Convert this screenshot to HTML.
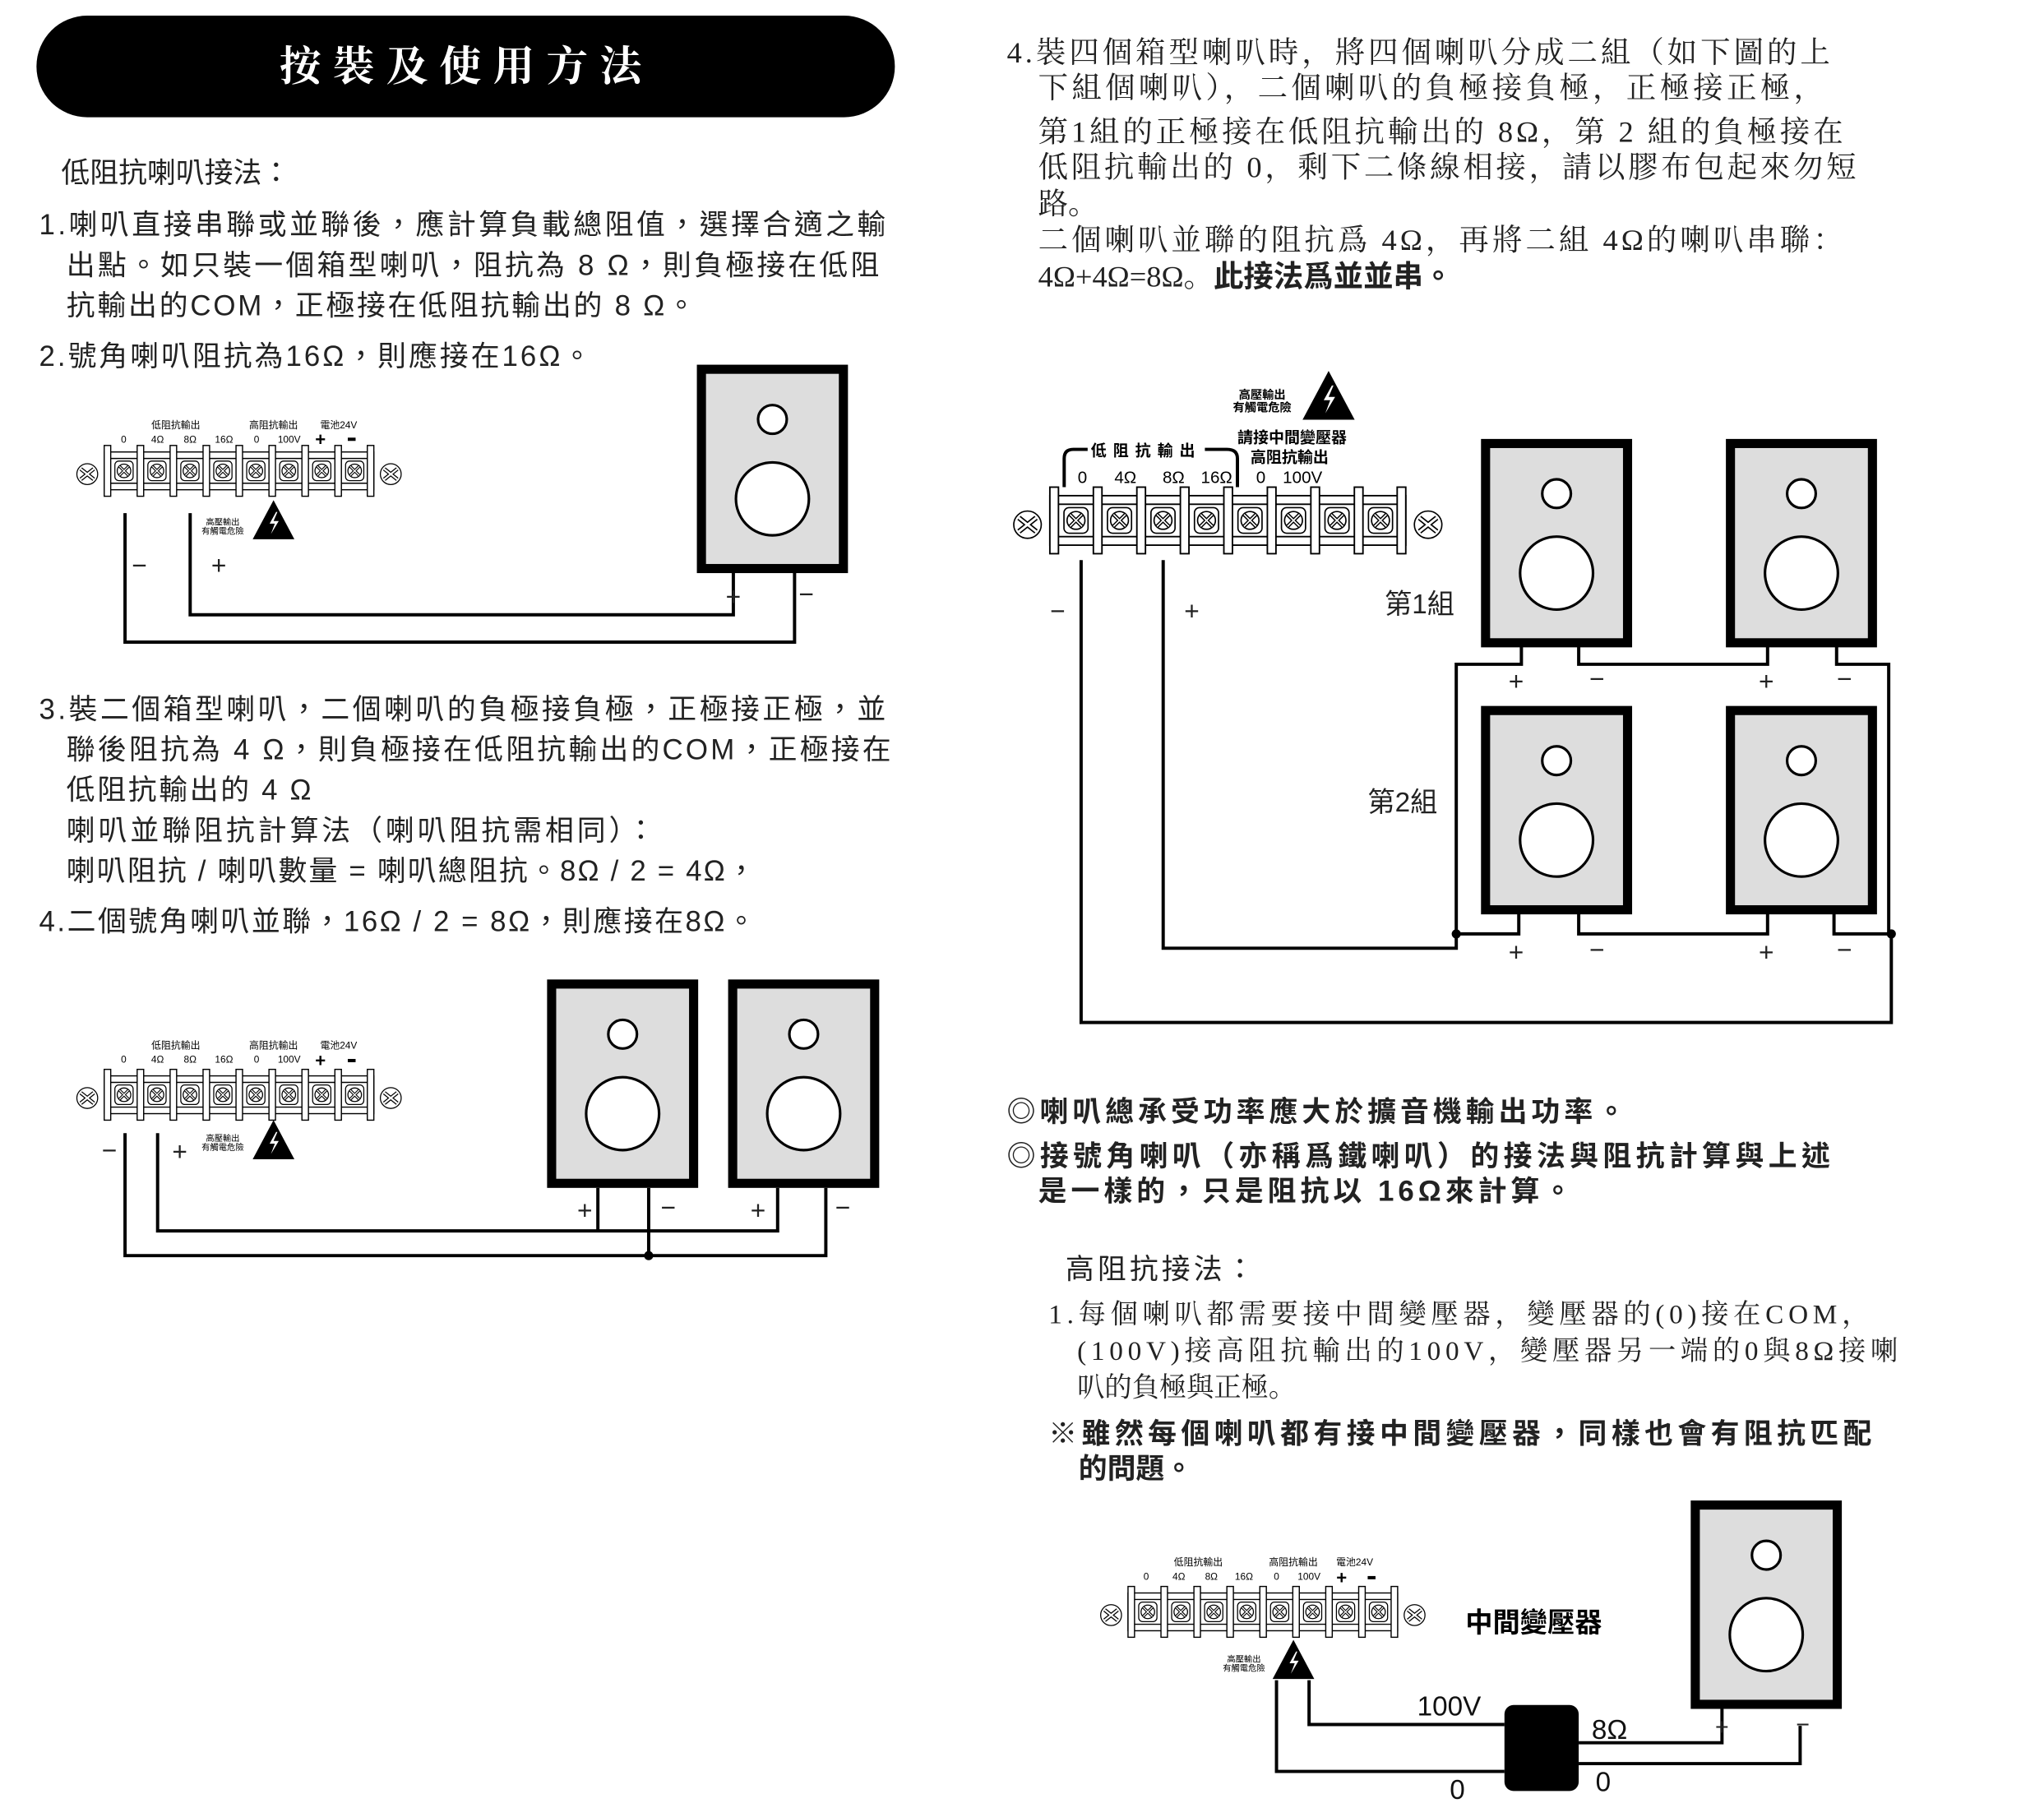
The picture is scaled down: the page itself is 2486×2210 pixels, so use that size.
<!DOCTYPE html>
<html><head><meta charset="utf-8"><style>
html,body{margin:0;padding:0;background:#fff;}
svg{display:block;}
.s{font-family:"Liberation Sans","Noto Sans CJK TC",sans-serif;}
.r{font-family:"Liberation Serif","Noto Serif CJK SC",serif;}
</style></head><body>
<svg width="2486" height="2210" viewBox="0 0 1569 1395" preserveAspectRatio="xMinYMin meet" xmlns="http://www.w3.org/2000/svg">
<defs>
<g id="cell">
 <rect x="-7" y="-7.5" width="14" height="15" rx="3" fill="#fff" stroke="#000" stroke-width="0.8"/>
 <circle r="5.2" fill="#fff" stroke="#000" stroke-width="0.8"/>
 <path d="M-3.5,-3.5L3.5,3.5M3.5,-3.5L-3.5,3.5" stroke="#000" stroke-width="2.2"/>
 <path d="M-3.5,-3.5L3.5,3.5M3.5,-3.5L-3.5,3.5" stroke="#fff" stroke-width="0.8"/>
</g>
<g id="screw">
 <circle r="8" fill="#fff" stroke="#000" stroke-width="0.8"/>
 <path d="M-5,-4L5,4M5,-4L-5,4" stroke="#000" stroke-width="3"/>
 <path d="M-5,-4L5,4M5,-4L-5,4" stroke="#fff" stroke-width="1.4"/>
</g>
<g id="block">
 <rect x="0" y="5" width="207" height="29" fill="#fff" stroke="#000" stroke-width="0.9"/>
 <line x1="0" y1="10" x2="207" y2="10" stroke="#000" stroke-width="0.9"/>
 <line x1="0" y1="29" x2="207" y2="29" stroke="#000" stroke-width="0.9"/>
 <g fill="#fff" stroke="#000" stroke-width="0.9">
 <rect x="0" y="0" width="5" height="39"/><rect x="25.3" y="0" width="5" height="39"/><rect x="50.6" y="0" width="5" height="39"/><rect x="75.9" y="0" width="5" height="39"/><rect x="101.2" y="0" width="5" height="39"/><rect x="126.5" y="0" width="5" height="39"/><rect x="151.8" y="0" width="5" height="39"/><rect x="177.1" y="0" width="5" height="39"/><rect x="202" y="0" width="5" height="39"/>
 </g>
 <use href="#cell" x="15.2" y="19.5"/><use href="#cell" x="40.5" y="19.5"/><use href="#cell" x="65.8" y="19.5"/><use href="#cell" x="91.1" y="19.5"/><use href="#cell" x="116.4" y="19.5"/><use href="#cell" x="141.7" y="19.5"/><use href="#cell" x="167" y="19.5"/><use href="#cell" x="192.3" y="19.5"/>
 <use href="#screw" x="-13" y="22"/><use href="#screw" x="220" y="22"/>
</g>
<g id="spk">
 <rect x="3.5" y="3.5" width="109" height="153" fill="#ddd" stroke="#000" stroke-width="7"/>
 <circle cx="58" cy="42" r="11" fill="#fff" stroke="#000" stroke-width="2"/>
 <circle cx="58" cy="103" r="28" fill="#fff" stroke="#000" stroke-width="2"/>
</g>
<g id="tri">
 <path d="M0,-17L16,13L-16,13Z" fill="#000"/>
 <path d="M2,-8L-3,1L1,1L-2,9L4,-1L0,-1L3,-8Z" fill="#fff"/>
</g>
</defs>

<!-- title -->
<rect x="28" y="12" width="659" height="78" rx="39" fill="#000"/>
<text x="358" y="62" text-anchor="middle" class="r" font-size="32" font-weight="bold" fill="#fff" letter-spacing="9">按裝及使用方法</text>

<g class="s" font-size="22" fill="#222">
<text x="47" y="140">低阻抗喇叭接法：</text>
<text x="30" y="180" textLength="650">1.喇叭直接串聯或並聯後，應計算負載總阻值，選擇合適之輸</text>
<text x="51" y="211" textLength="624">出點。如只裝一個箱型喇叭，阻抗為 8 Ω，則負極接在低阻</text>
<text x="51" y="242" textLength="483">抗輸出的COM，正極接在低阻抗輸出的 8 Ω。</text>
<text x="30" y="281" textLength="424">2.號角喇叭阻抗為16Ω，則應接在16Ω。</text>
<text x="30" y="552" textLength="650">3.裝二個箱型喇叭，二個喇叭的負極接負極，正極接正極，並</text>
<text x="51" y="583" textLength="633">聯後阻抗為 4 Ω，則負極接在低阻抗輸出的COM，正極接在</text>
<text x="51" y="614" textLength="188">低阻抗輸出的 4 Ω</text>
<text x="51" y="645" textLength="452">喇叭並聯阻抗計算法（喇叭阻抗需相同）：</text>
<text x="51" y="676" textLength="529">喇叭阻抗 / 喇叭數量 = 喇叭總阻抗。8Ω / 2 = 4Ω，</text>
<text x="30" y="715" textLength="550">4.二個號角喇叭並聯，16Ω / 2 = 8Ω，則應接在8Ω。</text>
</g>

<!-- diagram 1 -->
<use href="#block" x="80" y="342"/>
<g class="s" font-size="7.5" fill="#000" text-anchor="middle">
<text x="135" y="329">低阻抗輸出</text><text x="210" y="329">高阻抗輸出</text><text x="260" y="329">電池24V</text>
<text x="95" y="340">0</text><text x="121" y="340">4Ω</text><text x="146" y="340">8Ω</text><text x="172" y="340">16Ω</text><text x="197" y="340">0</text><text x="222" y="340">100V</text>
<text x="171" y="403" font-size="6.5">高壓輸出</text><text x="171" y="410" font-size="6.5">有觸電危險</text>
</g>
<text x="246" y="342" font-size="14" font-weight="bold" text-anchor="middle" class="s">+</text>
<rect x="267" y="336" width="6" height="2.5" fill="#000"/>
<use href="#tri" x="210" y="401"/>
<use href="#spk" x="535" y="280"/>
<g fill="none" stroke="#000" stroke-width="2.5">
<polyline points="96,394 96,493 610,493 610,440"/>
<polyline points="146,394 146,472 563,472 563,440"/>
</g>
<g class="s" font-size="20" fill="#222" text-anchor="middle">
<text x="107" y="441">−</text><text x="168" y="441">+</text><text x="563" y="465">+</text><text x="619" y="463">−</text>
</g>

<!-- diagram 2 -->
<use href="#block" x="80" y="821"/>
<g class="s" font-size="7.5" fill="#000" text-anchor="middle">
<text x="135" y="805">低阻抗輸出</text><text x="210" y="805">高阻抗輸出</text><text x="260" y="805">電池24V</text>
<text x="95" y="816">0</text><text x="121" y="816">4Ω</text><text x="146" y="816">8Ω</text><text x="172" y="816">16Ω</text><text x="197" y="816">0</text><text x="222" y="816">100V</text>
<text x="171" y="876" font-size="6.5">高壓輸出</text><text x="171" y="883" font-size="6.5">有觸電危險</text>
</g>
<text x="246" y="819" font-size="14" font-weight="bold" text-anchor="middle" class="s">+</text>
<rect x="267" y="813" width="6" height="2.5" fill="#000"/>
<use href="#tri" x="210" y="877"/>
<use href="#spk" x="420" y="752"/>
<use href="#spk" x="559" y="752"/>
<g fill="none" stroke="#000" stroke-width="2.5">
<polyline points="96,870 96,964 634,964 634,912"/>
<polyline points="121,870 121,945 597,945 597,912"/>
<line x1="459" y1="912" x2="459" y2="945"/>
<line x1="498" y1="912" x2="498" y2="964"/>
</g>
<circle cx="498" cy="964" r="3.5" fill="#000"/>
<g class="s" font-size="20" fill="#222" text-anchor="middle">
<text x="84" y="890">−</text><text x="138" y="891">+</text><text x="449" y="936">+</text><text x="513" y="934">−</text><text x="582" y="936">+</text><text x="647" y="934">−</text>
</g>

<!-- right paragraph -->
<g class="r" font-size="23" fill="#222">
<text x="773" y="48" textLength="632">4.裝四個箱型喇叭時，將四個喇叭分成二組（如下圖的上</text>
<text x="797" y="75" textLength="603">下組個喇叭），二個喇叭的負極接負極，正極接正極，</text>
<text x="797" y="109" textLength="618">第1組的正極接在低阻抗輸出的 8Ω，第 2 組的負極接在</text>
<text x="797" y="136" textLength="628">低阻抗輸出的 0，剩下二條線相接，請以膠布包起來勿短</text>
<text x="797" y="164">路。</text>
<text x="797" y="192" textLength="618">二個喇叭並聯的阻抗爲 4Ω，再將二組 4Ω的喇叭串聯：</text>
<text x="797" y="220">4Ω+4Ω=8Ω。<tspan class="s" font-weight="bold">此接法爲並並串。</tspan></text>
</g>

<!-- diagram 3 -->
<g transform="translate(7 0)">
<use href="#block" x="799" y="374" transform="translate(799 374) scale(1.32 1.31) translate(-799 -374)"/>
<path d="M810,374 L810,352 Q810,345 817,345 L828,345 M918,345 L935,345 Q943,345 943,352 L943,374" fill="none" stroke="#000" stroke-width="2.5"/>
<g class="s" fill="#000" text-anchor="middle">
<text x="873" y="350" font-size="12" font-weight="bold" letter-spacing="5">低阻抗輸出</text>
<text x="985" y="340" font-size="12" font-weight="bold">請接中間變壓器</text>
<text x="983" y="355" font-size="12" font-weight="bold">高阻抗輸出</text>
<text x="962" y="306" font-size="9" font-weight="bold">高壓輸出</text>
<text x="962" y="316" font-size="9" font-weight="bold">有觸電危險</text>
<g font-size="13"><text x="824" y="371">0</text><text x="857" y="371">4Ω</text><text x="894" y="371">8Ω</text><text x="927" y="371">16Ω</text><text x="961" y="371">0</text><text x="993" y="371">100V</text></g>
</g>
<use href="#tri" x="1013" y="306" transform="translate(1013 306) scale(1.25) translate(-1013 -306)"/>
</g>
<use href="#spk" x="1137" y="337"/>
<use href="#spk" x="1325" y="337"/>
<use href="#spk" x="1137" y="542"/>
<use href="#spk" x="1325" y="542"/>
<g fill="none" stroke="#000" stroke-width="2.5">
<polyline points="1168,495 1168,510 1118,510 1118,717"/>
<polyline points="1212,495 1212,510 1357,510 1357,495"/>
<polyline points="1410,495 1410,510 1450,510 1450,717"/>
<polyline points="1166,700 1166,717 1118,717"/>
<polyline points="1212,700 1212,717 1357,717 1357,700"/>
<polyline points="1408,700 1408,717 1452,717"/>
<polyline points="893,430 893,728 1118,728 1118,717"/>
<polyline points="830,430 830,785 1452,785 1452,717"/>
</g>
<circle cx="1118" cy="717" r="3.5" fill="#000"/><circle cx="1452" cy="717" r="3.5" fill="#000"/>
<g class="s" font-size="20" fill="#222" text-anchor="middle">
<text x="812" y="476">−</text><text x="915" y="476">+</text>
<text x="1164" y="530">+</text><text x="1226" y="528">−</text><text x="1356" y="530">+</text><text x="1416" y="528">−</text>
<text x="1164" y="738">+</text><text x="1226" y="736">−</text><text x="1356" y="738">+</text><text x="1416" y="736">−</text>
</g>
<g class="s" font-size="21" fill="#222">
<text x="1063" y="471">第1組</text><text x="1050" y="623">第2組</text>
</g>

<!-- bullets -->
<g class="s" font-size="22" fill="#222">
<text x="773" y="861" font-weight="bold" textLength="475">◎喇叭總承受功率應大於擴音機輸出功率。</text>
<text x="773" y="895" font-weight="bold" textLength="632">◎接號角喇叭（亦稱爲鐵喇叭）的接法與阻抗計算與上述</text>
<text x="797" y="922" font-weight="bold" textLength="410">是一樣的，只是阻抗以 16Ω來計算。</text>
<text x="818" y="982" textLength="145">高阻抗接法：</text>
</g>
<g class="r" font-size="21" fill="#222">
<text x="805" y="1016" textLength="630">1.每個喇叭都需要接中間變壓器，變壓器的(0)接在COM，</text>
<text x="827" y="1044" textLength="630">(100V)接高阻抗輸出的100V，變壓器另一端的0與8Ω接喇</text>
<text x="827" y="1072">叭的負極與正極。</text>
</g>
<g class="s" font-size="22" fill="#222" font-weight="bold">
<text x="805" y="1108" textLength="632">※雖然每個喇叭都有接中間變壓器，同樣也會有阻抗匹配</text>
<text x="828" y="1135">的問題。</text>
</g>

<!-- diagram 4 -->
<use href="#block" x="866" y="1218"/>
<g class="s" font-size="7.5" fill="#000" text-anchor="middle">
<text x="920" y="1202">低阻抗輸出</text><text x="993" y="1202">高阻抗輸出</text><text x="1040" y="1202">電池24V</text>
<text x="880" y="1213">0</text><text x="905" y="1213">4Ω</text><text x="930" y="1213">8Ω</text><text x="955" y="1213">16Ω</text><text x="980" y="1213">0</text><text x="1005" y="1213">100V</text>
<text x="955" y="1276" font-size="6.5">高壓輸出</text><text x="955" y="1283" font-size="6.5">有觸電危險</text>
</g>
<text x="1030" y="1216" font-size="14" font-weight="bold" text-anchor="middle" class="s">+</text>
<rect x="1050" y="1210" width="6" height="2.5" fill="#000"/>
<use href="#tri" x="993" y="1276"/>
<text x="1125" y="1253" class="s" font-size="21" font-weight="bold" fill="#000">中間變壓器</text>
<use href="#spk" x="1298" y="1152"/>
<rect x="1155" y="1309" width="57" height="66" rx="7" fill="#000"/>
<g fill="none" stroke="#000" stroke-width="2.5">
<polyline points="1005,1290 1005,1324 1155,1324"/>
<polyline points="980,1290 980,1360 1155,1360"/>
<polyline points="1212,1338 1322,1338 1322,1312"/>
<polyline points="1212,1354 1382,1354 1382,1325"/>
</g>
<g class="s" font-size="21" fill="#111">
<text x="1088" y="1317">100V</text><text x="1113" y="1381">0</text><text x="1222" y="1335">8Ω</text><text x="1225" y="1375">0</text>
</g>
<g class="s" font-size="18" fill="#222" text-anchor="middle"><text x="1322" y="1332">+</text><text x="1384" y="1330">−</text></g>
</svg>
</body></html>
